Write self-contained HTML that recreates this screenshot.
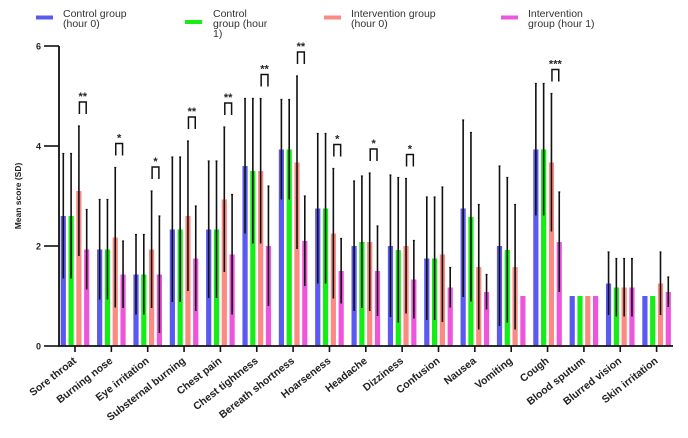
<!DOCTYPE html>
<html><head><meta charset="utf-8"><style>
body{margin:0;background:#fff;}
svg{display:block;font-family:"Liberation Sans",Arial,sans-serif;}
</style></head><body>
<svg id="chart" width="688" height="438">
<g id="legend"></g>
<g id="plot"></g>
</svg>
<script>
const categories=["Sore throat","Burning nose","Eye irritation","Substernal burning","Chest pain","Chest tightness","Bereath shortness","Hoarseness","Headache","Dizziness","Confusion","Nausea","Vomiting","Cough","Blood sputum","Blurred vision","Skin irritation"];
const seriesNames=["Control group (hour 0)","Control group (hour 1)","Intervention group (hour 0)","Intervention group (hour 1)"];
const ctrl0=[2.6,1.93,1.43,2.33,2.33,3.6,3.93,2.75,2.0,2.0,1.75,2.75,2.0,3.93,1.0,1.25,1.0];
const ctrl0Sd=[1.25,1.0,0.8,1.45,1.37,1.35,1.0,1.5,1.3,1.42,1.23,1.77,1.6,1.32,0,0.63,0];
const ctrl1=[2.6,1.93,1.43,2.33,2.33,3.5,3.93,2.75,2.08,1.92,1.75,2.58,1.92,3.93,1.0,1.17,1.0];
const ctrl1Sd=[1.25,1.0,0.8,1.45,1.37,1.45,1.0,1.5,1.32,1.45,1.23,1.69,1.45,1.32,0,0.58,0];
const int0=[3.1,2.17,1.93,2.6,2.93,3.5,3.67,2.25,2.08,2.0,1.83,1.58,1.58,3.67,1.0,1.17,1.25];
const int0Sd=[1.3,1.4,1.17,1.5,1.45,1.45,1.73,1.3,1.38,1.35,1.35,1.25,1.25,1.38,0,0.58,0.63];
const int1=[1.93,1.43,1.43,1.75,1.83,2.0,2.1,1.5,1.5,1.33,1.17,1.08,1.0,2.08,1.0,1.17,1.08];
const int1Sd=[0.8,0.67,1.17,1.05,1.2,1.2,0.9,0.65,0.9,0.78,0.4,0.35,0,1.0,0,0.58,0.3];
const signif=["**","*","*","**","**","**","**","*","*","*","","","","***","","",""];
const yTicks=[0,2,4,6];
const colors=["#5a5af0","#14ee14","#fa8a82","#ee55dd"];

const NS="http://www.w3.org/2000/svg";
const plot=document.getElementById('plot');
const legend=document.getElementById('legend');
function y(v){return 346-v*50;}
function xc(i){return 75+i*36.35;}
function mk(tag,attrs,parent){const e=document.createElementNS(NS,tag);for(const k in attrs)e.setAttribute(k,attrs[k]);parent.appendChild(e);return e;}

const vals=[ctrl0,ctrl1,int0,int1], sds=[ctrl0Sd,ctrl1Sd,int0Sd,int1Sd];
categories.forEach((c,i)=>{
  for(let s=0;s<4;s++){
    const cx=xc(i)+(s-1.5)*7.8;
    const r=mk('rect',{x:cx-2.6,y:y(vals[s][i]),width:5.2,height:y(0)-y(vals[s][i]),fill:colors[s]},plot);
    
    
    const sd=sds[s][i];
    if(sd>0){
      const l=mk('line',{x1:cx,x2:cx,y1:y(vals[s][i]+sd),y2:y(vals[s][i]-sd),stroke:'#111','stroke-width':1.6},plot);
      
      
      mk('line',{x1:cx-1,x2:cx+1,y1:y(vals[s][i]+sd),y2:y(vals[s][i]+sd),stroke:'#111','stroke-width':1.2},plot);
    }
  }
  if(signif[i]){
    const top=Math.max(int0[i]+int0Sd[i],int1[i]+int1Sd[i])+0.48;
    const x1=xc(i)+0.5*7.8+0.5, x2=xc(i)+1.5*7.8-0.5;
    const p=mk('path',{d:`M${x1} ${y(top)+12}V${y(top)}H${x2}V${y(top)+12}`,fill:'none',stroke:'#111','stroke-width':1.5},plot);
    
    
    const t=mk('text',{x:(x1+x2)/2,y:y(top)-2,'text-anchor':'middle','font-size':11,'font-weight':'bold',fill:'#222'},plot);
    t.textContent=signif[i];
    
    
  }
  mk('line',{x1:xc(i),x2:xc(i),y1:346,y2:352,stroke:'#111','stroke-width':1.6},plot);
  const lb=mk('text',{x:0,y:0,'text-anchor':'end','font-size':10.5,'font-weight':'bold',fill:'#222',transform:`translate(${xc(i)+2},${362}) rotate(-38)`},plot);
  lb.textContent=c;
  
  
});
const ax=mk('path',{d:'M59 46V346H673',fill:'none',stroke:'#111','stroke-width':1.8},plot);


yTicks.forEach(v=>{
  mk('line',{x1:44,x2:59,y1:y(v),y2:y(v),stroke:'#111','stroke-width':1.6},plot);
  const t=mk('text',{x:41,y:y(v)+3.5,'text-anchor':'end','font-size':9,'font-weight':'bold',fill:'#222'},plot);
  t.textContent=v;
  
  
});
const yt=mk('text',{x:0,y:0,'text-anchor':'middle','font-size':8.5,'font-weight':'bold',fill:'#222',transform:'translate(21,196) rotate(-90)'},plot);
yt.textContent='Mean score (SD)';


const legendItems=[
 {sx:36,sy:17.5,tx:63,lines:["Control group","(hour 0)"]},
 {sx:185,sy:22,tx:213,lines:["Control","group (hour","1)"]},
 {sx:324,sy:17.5,tx:351,lines:["Intervention group","(hour 0)"]},
 {sx:501,sy:17.5,tx:528,lines:["Intervention","group (hour 1)"]}];
legendItems.forEach((it,s)=>{
  const g=mk('g',{},legend);
  
  
  mk('rect',{x:it.sx,y:it.sy-2,width:17,height:4,fill:colors[s]},g);
  it.lines.forEach((ln,k)=>{
    const t=mk('text',{x:it.tx,y:17+k*10,'font-size':10.5,fill:'#333'},g);
    t.textContent=ln;
  });
});
</script>
</body></html>
